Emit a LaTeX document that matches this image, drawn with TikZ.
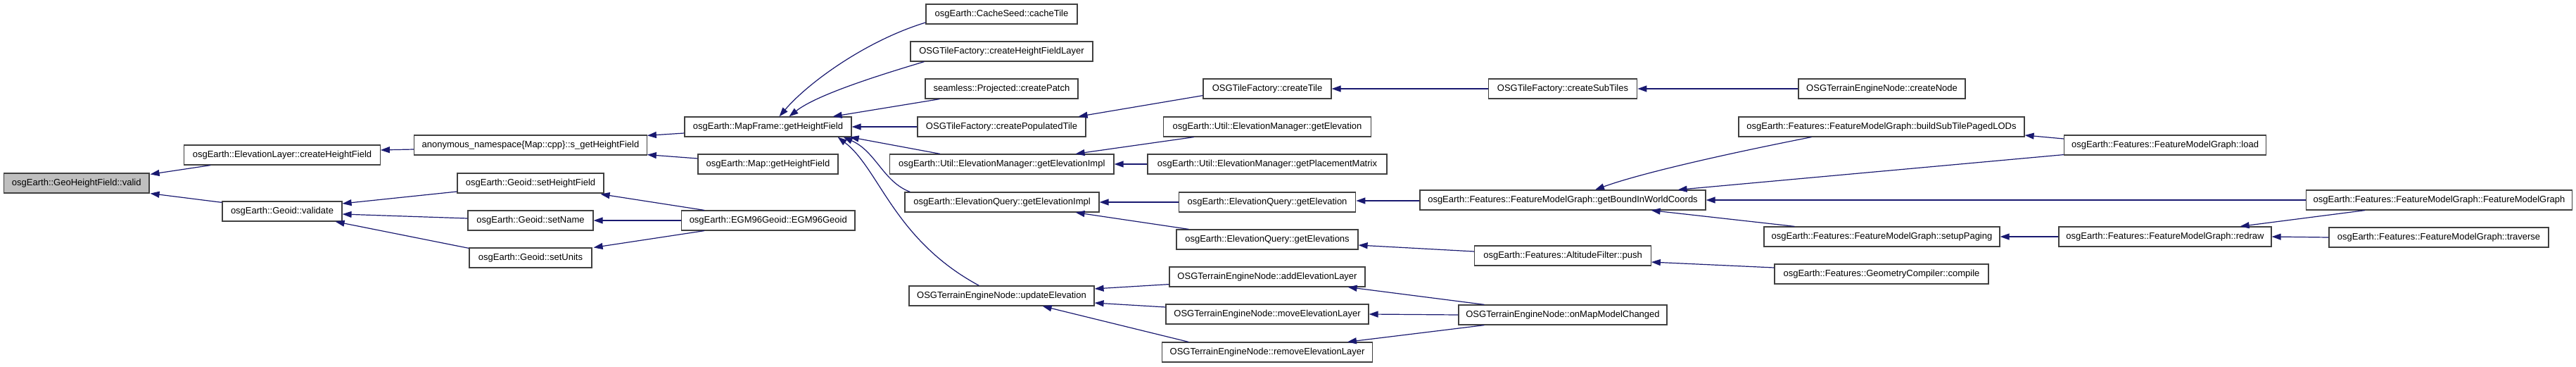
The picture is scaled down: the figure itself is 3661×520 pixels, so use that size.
\documentclass[tikz,border=0pt]{standalone}
\usepackage{fontspec}
\setmainfont{Liberation Sans}
\usetikzlibrary{calc,arrows.meta}
\definecolor{edgeblue}{HTML}{191970}
\definecolor{rootgray}{HTML}{BFBFBF}
\definecolor{boxline}{HTML}{404040}
\begin{document}
\begin{tikzpicture}[x=1pt,y=-1pt,
  fn/.style={draw=boxline, line width=1.2pt, fill=white, minimum height=28pt, inner sep=0pt, font=\fontsize{13}{15}\selectfont},
  root/.style={fn, fill=rootgray},
  call/.style={draw=edgeblue, line width=1.2pt, -{Triangle[length=13pt,width=9pt]}},
]
\useasboundingbox (0,0) rectangle (3661,520);
% rank 0
\node[root, minimum width=206.5pt] (valid) at (108.75,260) {osgEarth::GeoHeightField::valid};
% rank 1
\node[fn, minimum width=278.5pt] (elevLayer) at (401,220) {osgEarth::ElevationLayer::createHeightField};
\node[fn, minimum width=170pt] (validate) at (401,300) {osgEarth::Geoid::validate};
% rank 2
\node[fn, minimum width=330.5pt] (anon) at (754,206) {anonymous\_namespace\{Map::cpp\}::s\_getHeightField};
\node[fn, minimum width=208pt] (setHF) at (754,260) {osgEarth::Geoid::setHeightField};
\node[fn, minimum width=178pt] (setName) at (754,313) {osgEarth::Geoid::setName};
\node[fn, minimum width=174pt] (setUnits) at (754,366) {osgEarth::Geoid::setUnits};
% rank 3
\node[fn, minimum width=237pt] (mapframe) at (1091.5,180) {osgEarth::MapFrame::getHeightField};
\node[fn, minimum width=199pt] (map) at (1091.5,233) {osgEarth::Map::getHeightField};
\node[fn, minimum width=246.5pt] (egm) at (1091.75,313) {osgEarth::EGM96Geoid::EGM96Geoid};
% rank 4
\node[fn, minimum width=215pt] (cacheTile) at (1423.5,20) {osgEarth::CacheSeed::cacheTile};
\node[fn, minimum width=259pt] (chfl) at (1423.5,73) {OSGTileFactory::createHeightFieldLayer};
\node[fn, minimum width=217pt] (patch) at (1423.5,126) {seamless::Projected::createPatch};
\node[fn, minimum width=239pt] (popTile) at (1423.5,180) {OSGTileFactory::createPopulatedTile};
\node[fn, minimum width=318.5pt] (uImpl) at (1423.75,233) {osgEarth::Util::ElevationManager::getElevationImpl};
\node[fn, minimum width=276pt] (eqImpl) at (1424,287) {osgEarth::ElevationQuery::getElevationImpl};
\node[fn, minimum width=263pt] (updElev) at (1423.5,420) {OSGTerrainEngineNode::updateElevation};
% rank 5
\node[fn, minimum width=182pt] (createTile) at (1801,126) {OSGTileFactory::createTile};
\node[fn, minimum width=295.5pt] (uGetElev) at (1801,180) {osgEarth::Util::ElevationManager::getElevation};
\node[fn, minimum width=340pt] (placement) at (1801,233) {osgEarth::Util::ElevationManager::getPlacementMatrix};
\node[fn, minimum width=251.5pt] (eqGetElev) at (1801,287) {osgEarth::ElevationQuery::getElevation};
\node[fn, minimum width=258pt] (eqGetElevs) at (1801,340) {osgEarth::ElevationQuery::getElevations};
\node[fn, minimum width=278pt] (addEL) at (1801,393) {OSGTerrainEngineNode::addElevationLayer};
\node[fn, minimum width=288pt] (moveEL) at (1801,446) {OSGTerrainEngineNode::moveElevationLayer};
\node[fn, minimum width=298.6pt] (removeEL) at (1801,500) {OSGTerrainEngineNode::removeElevationLayer};
% rank 6
\node[fn, minimum width=211.5pt] (subTiles) at (2221,126) {OSGTileFactory::createSubTiles};
\node[fn, minimum width=406pt] (getBound) at (2221,284) {osgEarth::Features::FeatureModelGraph::getBoundInWorldCoords};
\node[fn, minimum width=250.5pt] (push) at (2221,363) {osgEarth::Features::AltitudeFilter::push};
\node[fn, minimum width=296pt] (onMMC) at (2221,447) {OSGTerrainEngineNode::onMapModelChanged};
% rank 7
\node[fn, minimum width=237pt] (createNode) at (2674.5,126) {OSGTerrainEngineNode::createNode};
\node[fn, minimum width=406pt] (buildSub) at (2674,180) {osgEarth::Features::FeatureModelGraph::buildSubTilePagedLODs};
\node[fn, minimum width=335pt] (setupPaging) at (2674.5,336) {osgEarth::Features::FeatureModelGraph::setupPaging};
\node[fn, minimum width=304pt] (compile) at (2674,389) {osgEarth::Features::GeometryCompiler::compile};
% rank 8
\node[fn, minimum width=287pt] (load) at (3077,206) {osgEarth::Features::FeatureModelGraph::load};
\node[fn, minimum width=302pt] (redraw) at (3077,336) {osgEarth::Features::FeatureModelGraph::redraw};
% rank 9
\node[fn, minimum width=378pt] (fmgCtor) at (3466.5,284) {osgEarth::Features::FeatureModelGraph::FeatureModelGraph};
\node[fn, minimum width=312pt] (traverse) at (3466,337) {osgEarth::Features::FeatureModelGraph::traverse};

% edges (caller -> callee)
\draw[call] ($(elevLayer.south west)+(38,0)$) -- ($(valid.north east)+(1,2)$);
\draw[call] ($(validate.north west)+(0,2)$) -- ($(valid.south east)+(1,0)$);
\draw[call] ($(anon.west)+(0,6)$) -- ($(elevLayer.east)+(0,-7)$);
\draw[call] ($(setHF.west)+(0,12)$) -- ($(validate.east)+(0,-11)$);
\draw[call] ($(setName.west)+(0,-3)$) -- ($(validate.east)+(0,4)$);
\draw[call] ($(setUnits.north west)+(0,1)$) -- ($(validate.south east)+(-10,0)$);
\draw[call] ($(mapframe.west)+(0,9)$) -- ($(anon.north east)+(0,1)$);
\draw[call] ($(map.west)+(0,-8)$) -- ($(anon.south east)+(0,-1)$);
\draw[call] ($(egm.north west)+(33,0)$) -- ($(setHF.south east)+(-5,1)$);
\draw[call] (egm.west) -- (setName.east);
\draw[call] ($(egm.south west)+(33,0)$) -- ($(setUnits.north east)+(2,0)$);
\draw[call] ($(cacheTile.west)+(0,12)$) .. controls (1230,58) and (1148,118) .. ($(mapframe.north)+(16,0)$);
\draw[call] ($(chfl.south west)+(20,0)$) .. controls (1245,108) and (1160,135) .. ($(mapframe.north)+(30,0)$);
\draw[call] ($(patch.south west)+(21,0)$) -- ($(mapframe.north east)+(-27,0)$);
\draw[call] (popTile.west) -- (mapframe.east);
\draw[call] ($(uImpl.north west)+(72,0)$) -- ($(mapframe.south east)+(-3,0)$);
\draw[call] ($(eqImpl.north west)+(8,0)$) .. controls (1255,258) and (1245,215) .. ($(mapframe.south east)+(-12,0)$);
\draw[call] ($(updElev.north west)+(100,0)$) .. controls (1270,340) and (1250,240) .. ($(mapframe.south east)+(-20,0)$);
\draw[call] ($(createTile.south west)+(0,-5)$) -- ($(popTile.north east)+(-11,0)$);
\draw[call] ($(uGetElev.south west)+(44,0)$) -- ($(uImpl.north east)+(-55,0)$);
\draw[call] (placement.west) -- (uImpl.east);
\draw[call] (eqGetElev.west) -- (eqImpl.east);
\draw[call] ($(eqGetElevs.north west)+(18,0)$) -- ($(eqImpl.south east)+(-34,0)$);
\draw[call] ($(addEL.south west)+(0,-4)$) -- ($(updElev.east)+(0,-10)$);
\draw[call] ($(moveEL.west)+(0,-10)$) -- ($(updElev.east)+(0,10)$);
\draw[call] ($(removeEL.north west)+(38,0)$) -- ($(updElev.south east)+(-74,0)$);
\draw[call] (subTiles.west) -- (createTile.east);
\draw[call] ($(getBound.west)+(0,1)$) -- ($(eqGetElev.east)+(0,-2)$);
\draw[call] ($(push.west)+(0,-6)$) -- ($(eqGetElevs.east)+(0,8)$);
\draw[call] ($(onMMC.north west)+(37,0)$) -- ($(addEL.south east)+(-25,0)$);
\draw[call] (onMMC.west) -- (moveEL.east);
\draw[call] ($(onMMC.south west)+(37,0)$) -- ($(removeEL.north east)+(-36,0)$);
\draw[call] (createNode.west) -- (subTiles.east);
\draw[call] ($(buildSub.south west)+(104,0)$) .. controls (2420,225) and (2320,250) .. ($(getBound.north)+(46,0)$);
\draw[call] ($(load.south west)+(0,-1)$) -- ($(getBound.north east)+(-40,0)$);
\draw[call] (fmgCtor.west) -- (getBound.east);
\draw[call] ($(setupPaging.north west)+(44,0)$) -- ($(getBound.south east)+(-78,0)$);
\draw[call] ($(compile.west)+(0,-9)$) -- ($(push.east)+(0,9)$);
\draw[call] ($(load.west)+(0,-9)$) -- ($(buildSub.east)+(0,12)$);
\draw[call] (redraw.west) -- (setupPaging.east);
\draw[call] ($(fmgCtor.south west)+(84,0)$) -- ($(redraw.north east)+(-45,0)$);
\draw[call] (traverse.west) -- (redraw.east);
\end{tikzpicture}
\end{document}
